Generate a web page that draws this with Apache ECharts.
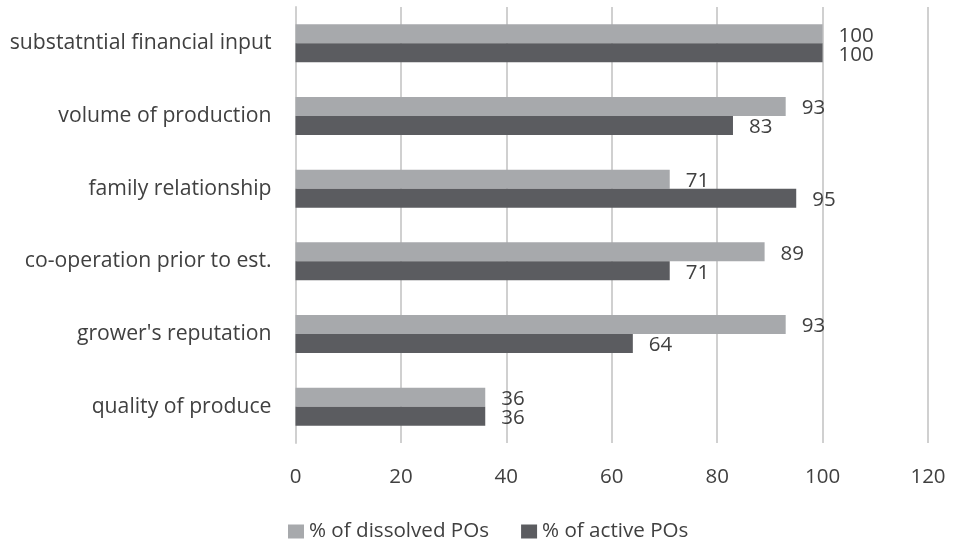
<!DOCTYPE html>
<html><head><meta charset="utf-8">
<script src="https://cdn.jsdelivr.net/npm/echarts@6/dist/echarts.min.js"></script>
<style>html,body{margin:0;padding:0;background:#fff}#c{width:953px;height:541px}</style>
</head><body><div id="c"></div>
<script>
const categories = ["substatntial financial input","volume of production","family relationship","co-operation prior to est.","grower's reputation","quality of produce"];
const dissolved = [100,93,71,89,93,36];
const active = [100,83,95,71,64,36];
const xTicks = {min:0,max:120,interval:20};
const FONT = "Open Sans";
const TXT = "#404040";
const chart = echarts.init(document.getElementById('c'));
const lbl = {show:true,position:'right',distance:16,color:TXT,fontSize:20.5,fontFamily:FONT,offset:[0,2]};
chart.setOption({
  animation:false,
  grid:{left:295.5,right:25,top:7,bottom:98,containLabel:false},
  legend:{bottom:-6,left:283,itemWidth:16,itemHeight:14,itemGap:32,icon:'rect',
    textStyle:{color:TXT,fontSize:20.6,fontFamily:FONT},
    data:['% of dissolved POs','% of active POs']},
  xAxis:{type:'value',min:xTicks.min,max:xTicks.max,interval:xTicks.interval,
    axisLine:{show:false},axisTick:{show:false},
    axisLabel:{color:TXT,fontSize:20.5,fontFamily:FONT,margin:24},
    splitLine:{lineStyle:{color:'#d0d0d0',width:2}}},
  yAxis:{type:'category',data:categories,inverse:true,
    axisLine:{show:true,lineStyle:{color:'#d0d0d0',width:2}},axisTick:{show:false},
    axisLabel:{color:TXT,fontSize:21.2,fontFamily:FONT,margin:24}},
  series:[
    {name:'% of dissolved POs',type:'bar',data:dissolved,barWidth:19,barGap:'0%',itemStyle:{color:'#a7a9ac'},label:lbl},
    {name:'% of active POs',type:'bar',data:active,barWidth:19,barGap:'0%',itemStyle:{color:'#5b5c60'},label:lbl}
  ]
});
</script></body></html>
